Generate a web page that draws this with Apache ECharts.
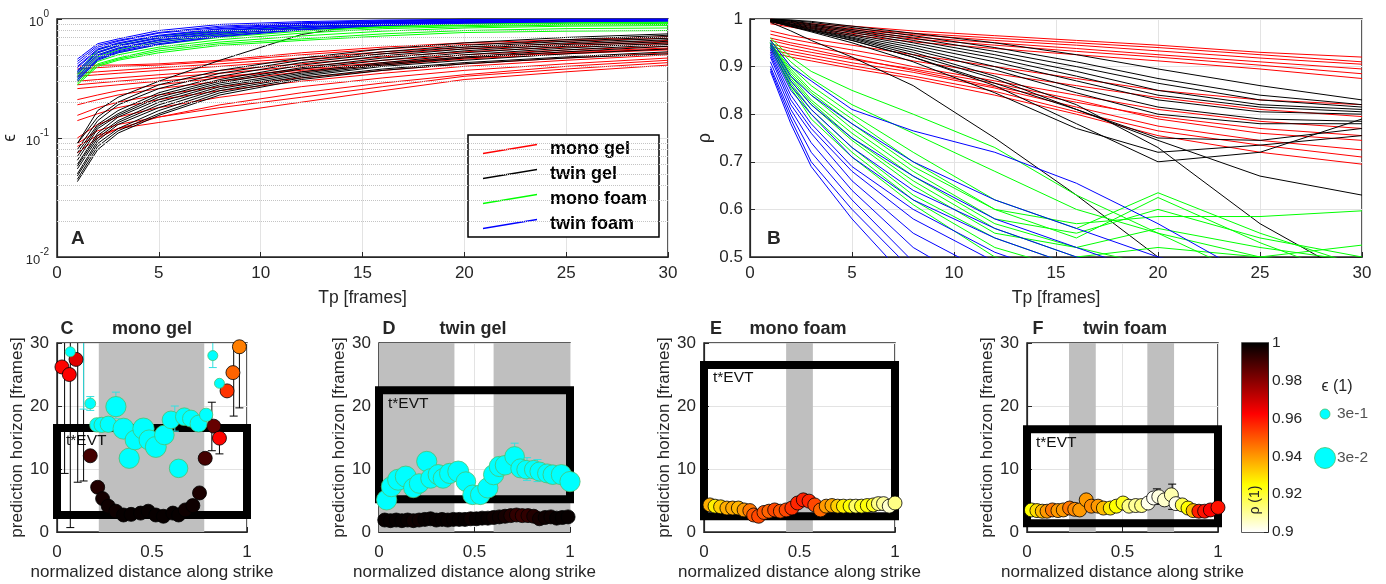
<!DOCTYPE html>
<html>
<head>
<meta charset="utf-8">
<script src="https://cdn.jsdelivr.net/npm/echarts@6.0.0/dist/echarts.min.js"></script>
<style>
  html, body { margin: 0; padding: 0; background: #fff; }
  #chart { width: 1386px; height: 584px; }
</style>
</head>
<body>
<div id="chart"></div>
<script>
// Tp sample points used for every curve of panels A and B
const tp = [1, 2, 3, 5, 8, 12, 16, 20, 25, 30]

// panel A : epsilon vs Tp (log scale)
const epsMonoGel = [
  [0.40, 0.41, 0.41, 0.42, 0.45, 0.52, 0.58, 0.63, 0.67, 0.71],
  [0.38, 0.39, 0.40, 0.41, 0.44, 0.50, 0.56, 0.61, 0.65, 0.69],
  [0.35, 0.36, 0.37, 0.39, 0.42, 0.47, 0.53, 0.58, 0.62, 0.66],
  [0.33, 0.34, 0.35, 0.37, 0.40, 0.45, 0.51, 0.56, 0.60, 0.64],
  [0.30, 0.31, 0.32, 0.34, 0.37, 0.42, 0.48, 0.53, 0.58, 0.62],
  [0.28, 0.29, 0.30, 0.32, 0.35, 0.40, 0.45, 0.50, 0.55, 0.59],
  [0.26, 0.27, 0.28, 0.30, 0.33, 0.37, 0.42, 0.47, 0.52, 0.56],
  [0.21, 0.23, 0.25, 0.28, 0.32, 0.38, 0.43, 0.48, 0.53, 0.57],
  [0.19, 0.21, 0.23, 0.26, 0.30, 0.36, 0.41, 0.46, 0.51, 0.55],
  [0.155, 0.18, 0.20, 0.23, 0.27, 0.32, 0.37, 0.42, 0.47, 0.52],
  [0.14, 0.16, 0.18, 0.21, 0.25, 0.30, 0.35, 0.40, 0.45, 0.50],
  [0.10, 0.13, 0.15, 0.18, 0.22, 0.27, 0.32, 0.37, 0.42, 0.47],
  [0.09, 0.115, 0.13, 0.15, 0.18, 0.22, 0.27, 0.33, 0.38, 0.43],
  [0.085, 0.105, 0.12, 0.135, 0.16, 0.20, 0.25, 0.31, 0.36, 0.41],
  [0.075, 0.10, 0.12, 0.15, 0.19, 0.24, 0.29, 0.34, 0.40, 0.45]
]
const epsTwinGel = [
  [0.09, 0.17, 0.22, 0.30, 0.45, 0.74, 0.95, 1.0, 1.0, 1.0],
  [0.09, 0.15, 0.20, 0.28, 0.37, 0.47, 0.56, 0.63, 0.70, 0.75],
  [0.08, 0.14, 0.19, 0.26, 0.35, 0.45, 0.53, 0.60, 0.67, 0.73],
  [0.075, 0.13, 0.17, 0.24, 0.33, 0.43, 0.51, 0.58, 0.65, 0.71],
  [0.07, 0.125, 0.16, 0.23, 0.31, 0.41, 0.49, 0.56, 0.63, 0.69],
  [0.065, 0.12, 0.155, 0.22, 0.30, 0.39, 0.47, 0.54, 0.61, 0.67],
  [0.06, 0.11, 0.15, 0.21, 0.29, 0.38, 0.45, 0.52, 0.59, 0.65],
  [0.058, 0.105, 0.14, 0.20, 0.28, 0.36, 0.43, 0.50, 0.57, 0.63],
  [0.055, 0.10, 0.135, 0.19, 0.27, 0.35, 0.42, 0.48, 0.55, 0.61],
  [0.05, 0.095, 0.13, 0.18, 0.26, 0.34, 0.41, 0.47, 0.53, 0.59],
  [0.048, 0.09, 0.12, 0.17, 0.25, 0.33, 0.40, 0.45, 0.51, 0.56],
  [0.045, 0.085, 0.115, 0.16, 0.24, 0.32, 0.38, 0.43, 0.48, 0.53],
  [0.043, 0.08, 0.11, 0.155, 0.23, 0.31, 0.37, 0.42, 0.47, 0.51]
]
const epsMonoFoam = [
  [0.36, 0.55, 0.62, 0.72, 0.80, 0.86, 0.90, 0.93, 0.95, 0.96],
  [0.35, 0.52, 0.60, 0.69, 0.78, 0.85, 0.89, 0.92, 0.94, 0.95],
  [0.34, 0.50, 0.57, 0.66, 0.75, 0.83, 0.87, 0.91, 0.93, 0.94],
  [0.33, 0.48, 0.55, 0.64, 0.73, 0.81, 0.86, 0.89, 0.92, 0.93],
  [0.32, 0.46, 0.52, 0.61, 0.70, 0.79, 0.85, 0.88, 0.90, 0.92],
  [0.31, 0.44, 0.50, 0.58, 0.67, 0.76, 0.83, 0.86, 0.89, 0.90],
  [0.30, 0.42, 0.47, 0.56, 0.64, 0.72, 0.79, 0.84, 0.87, 0.88],
  [0.29, 0.41, 0.46, 0.54, 0.62, 0.68, 0.75, 0.80, 0.83, 0.84],
  [0.28, 0.40, 0.45, 0.52, 0.60, 0.66, 0.72, 0.77, 0.79, 0.80]
]
const epsTwinFoam = [
  [0.46, 0.62, 0.68, 0.80, 0.90, 0.95, 0.98, 0.99, 1.0, 1.0],
  [0.44, 0.60, 0.66, 0.77, 0.87, 0.93, 0.97, 0.99, 0.99, 1.0],
  [0.42, 0.58, 0.65, 0.76, 0.85, 0.92, 0.96, 0.98, 0.99, 0.99],
  [0.40, 0.56, 0.63, 0.73, 0.83, 0.91, 0.95, 0.97, 0.98, 0.99],
  [0.39, 0.55, 0.62, 0.72, 0.82, 0.90, 0.94, 0.96, 0.98, 0.99],
  [0.37, 0.53, 0.60, 0.70, 0.80, 0.89, 0.93, 0.96, 0.97, 0.98],
  [0.36, 0.52, 0.59, 0.69, 0.79, 0.88, 0.93, 0.95, 0.97, 0.98],
  [0.35, 0.50, 0.57, 0.67, 0.77, 0.86, 0.92, 0.95, 0.97, 0.98],
  [0.33, 0.49, 0.56, 0.66, 0.76, 0.85, 0.91, 0.94, 0.96, 0.97],
  [0.32, 0.47, 0.54, 0.64, 0.74, 0.84, 0.90, 0.94, 0.96, 0.97],
  [0.31, 0.46, 0.53, 0.62, 0.72, 0.82, 0.89, 0.93, 0.95, 0.97],
  [0.30, 0.45, 0.52, 0.61, 0.71, 0.81, 0.88, 0.92, 0.95, 0.96]
]
const epsMinor = [0.02, 0.03, 0.04, 0.05, 0.06, 0.07, 0.08, 0.09, 0.2, 0.3, 0.4, 0.5, 0.6, 0.7, 0.8, 0.9]

// panel B : rho vs Tp
const rhoMonoGel = [
  [1.0, 0.995, 0.99, 0.985, 0.975, 0.965, 0.955, 0.945, 0.93, 0.92],
  [0.998, 0.993, 0.988, 0.98, 0.97, 0.96, 0.95, 0.94, 0.925, 0.91],
  [0.997, 0.99, 0.985, 0.977, 0.967, 0.955, 0.945, 0.933, 0.918, 0.905],
  [0.995, 0.988, 0.982, 0.974, 0.962, 0.95, 0.938, 0.925, 0.91, 0.895],
  [0.993, 0.986, 0.98, 0.97, 0.958, 0.945, 0.932, 0.92, 0.903, 0.885],
  [0.99, 0.983, 0.976, 0.966, 0.952, 0.938, 0.925, 0.912, 0.895, 0.875],
  [0.975, 0.965, 0.958, 0.945, 0.925, 0.9, 0.875, 0.85, 0.83, 0.82],
  [0.968, 0.958, 0.95, 0.935, 0.912, 0.885, 0.86, 0.835, 0.81, 0.795],
  [0.96, 0.95, 0.942, 0.926, 0.9, 0.87, 0.84, 0.81, 0.785, 0.77],
  [0.955, 0.945, 0.936, 0.918, 0.892, 0.858, 0.825, 0.795, 0.77, 0.755],
  [0.948, 0.938, 0.93, 0.915, 0.895, 0.865, 0.83, 0.79, 0.76, 0.745],
  [0.942, 0.932, 0.924, 0.908, 0.888, 0.855, 0.815, 0.775, 0.745, 0.725],
  [0.936, 0.926, 0.918, 0.902, 0.88, 0.848, 0.805, 0.765, 0.735, 0.71],
  [0.93, 0.92, 0.912, 0.896, 0.875, 0.84, 0.80, 0.755, 0.72, 0.695]
]
const rhoTwinGel = [
  [1.0, 0.998, 0.995, 0.985, 0.97, 0.95, 0.925, 0.895, 0.86, 0.83],
  [1.0, 0.997, 0.993, 0.982, 0.965, 0.94, 0.91, 0.875, 0.84, 0.82],
  [0.999, 0.996, 0.99, 0.978, 0.96, 0.932, 0.9, 0.865, 0.83, 0.815],
  [0.999, 0.995, 0.988, 0.975, 0.955, 0.925, 0.89, 0.85, 0.82, 0.81],
  [0.998, 0.993, 0.986, 0.972, 0.95, 0.918, 0.88, 0.84, 0.815, 0.805],
  [0.998, 0.992, 0.984, 0.968, 0.945, 0.91, 0.87, 0.83, 0.805, 0.80],
  [0.997, 0.99, 0.982, 0.965, 0.94, 0.9, 0.855, 0.815, 0.79, 0.785],
  [0.997, 0.989, 0.98, 0.962, 0.935, 0.893, 0.845, 0.80, 0.78, 0.78],
  [0.996, 0.987, 0.977, 0.958, 0.925, 0.875, 0.81, 0.75, 0.745, 0.77],
  [0.995, 0.985, 0.975, 0.955, 0.92, 0.86, 0.78, 0.70, 0.72, 0.79],
  [0.995, 0.984, 0.973, 0.95, 0.91, 0.845, 0.77, 0.72, 0.735, 0.755],
  [0.995, 0.985, 0.975, 0.955, 0.92, 0.865, 0.81, 0.745, 0.67, 0.63],
  [0.993, 0.975, 0.955, 0.92, 0.86, 0.75, 0.63, 0.5, 0.35, 0.2],
  [0.996, 0.988, 0.978, 0.96, 0.93, 0.88, 0.82, 0.73, 0.57, 0.45]
]
const rhoMonoFoam = [
  [0.96, 0.92, 0.89, 0.85, 0.80, 0.73, 0.63, 0.55, 0.45, 0.4],
  [0.955, 0.91, 0.875, 0.82, 0.76, 0.68, 0.6, 0.55, 0.5, 0.48],
  [0.955, 0.90, 0.86, 0.80, 0.72, 0.62, 0.56, 0.635, 0.55, 0.48],
  [0.95, 0.895, 0.85, 0.79, 0.70, 0.60, 0.54, 0.625, 0.53, 0.45],
  [0.95, 0.89, 0.845, 0.78, 0.69, 0.6, 0.57, 0.585, 0.585, 0.597],
  [0.95, 0.885, 0.84, 0.77, 0.68, 0.58, 0.55, 0.6, 0.54, 0.5],
  [0.948, 0.88, 0.83, 0.76, 0.67, 0.57, 0.52, 0.56, 0.52, 0.49],
  [0.948, 0.875, 0.825, 0.75, 0.66, 0.56, 0.5, 0.52, 0.50, 0.525],
  [0.945, 0.87, 0.82, 0.745, 0.65, 0.55, 0.52, 0.48, 0.45, 0.42],
  [0.945, 0.865, 0.81, 0.73, 0.63, 0.54, 0.48, 0.45, 0.42, 0.4],
  [0.94, 0.86, 0.80, 0.72, 0.62, 0.52, 0.47, 0.44, 0.4, 0.38],
  [0.94, 0.855, 0.79, 0.71, 0.61, 0.5, 0.46, 0.42, 0.38, 0.36]
]
const rhoTwinFoam = [
  [0.955, 0.9, 0.87, 0.81, 0.765, 0.72, 0.655, 0.57, 0.45, 0.4],
  [0.95, 0.88, 0.84, 0.78, 0.7, 0.62, 0.56, 0.5, 0.45, 0.4],
  [0.945, 0.87, 0.82, 0.75, 0.67, 0.58, 0.52, 0.46, 0.4, 0.35],
  [0.94, 0.86, 0.81, 0.73, 0.64, 0.56, 0.5, 0.45, 0.4, 0.35],
  [0.935, 0.85, 0.80, 0.71, 0.62, 0.54, 0.48, 0.43, 0.4, 0.35],
  [0.93, 0.84, 0.78, 0.69, 0.60, 0.51, 0.45, 0.4, 0.35, 0.3],
  [0.925, 0.83, 0.77, 0.68, 0.58, 0.49, 0.43, 0.38, 0.35, 0.3],
  [0.92, 0.82, 0.76, 0.66, 0.55, 0.46, 0.4, 0.35, 0.3, 0.3],
  [0.91, 0.81, 0.74, 0.64, 0.52, 0.42, 0.35, 0.3, 0.3, 0.3],
  [0.90, 0.80, 0.72, 0.62, 0.49, 0.38, 0.3, 0.3, 0.3, 0.3],
  [0.895, 0.79, 0.70, 0.60, 0.47, 0.35, 0.3, 0.3, 0.3, 0.3],
  [0.89, 0.78, 0.69, 0.58, 0.44, 0.3, 0.3, 0.3, 0.3, 0.3]
]

// panels C-F : [x, horizon, rho] and [x, horizon, eps]
const cRho = [[0.026, 26.2, 0.962], [0.065, 25.0, 0.963], [0.10, 27.4, 0.967], [0.175, 12.1, 0.99], [0.214, 7.1, 0.995],
  [0.24, 5.3, 0.997], [0.27, 4.1, 0.998], [0.31, 3.3, 0.998], [0.35, 2.7, 0.999], [0.39, 2.8, 0.999], [0.44, 3.0, 0.999],
  [0.48, 3.3, 0.999], [0.52, 2.7, 0.999], [0.56, 2.5, 0.999], [0.61, 3.0, 0.999], [0.64, 2.7, 0.999], [0.675, 3.5, 0.998],
  [0.715, 4.2, 0.998], [0.75, 6.2, 0.996], [0.78, 11.7, 0.99], [0.825, 16.8, 0.985], [0.855, 14.9, 0.962],
  [0.895, 22.4, 0.955], [0.926, 25.3, 0.948], [0.96, 29.4, 0.944]]
const cEps = [[0.07, 28.6, 0.3], [0.175, 20.4, 0.25], [0.21, 17.0, 0.12], [0.235, 17.0, 0.1], [0.27, 17.1, 0.08],
  [0.31, 19.9, 0.035], [0.35, 16.4, 0.03], [0.38, 11.7, 0.035], [0.41, 14.6, 0.04], [0.455, 16.4, 0.028],
  [0.485, 14.6, 0.035], [0.52, 13.5, 0.03], [0.565, 15.4, 0.04], [0.6, 17.8, 0.06], [0.64, 10.1, 0.05],
  [0.67, 18.3, 0.06], [0.705, 18.0, 0.07], [0.745, 17.2, 0.07], [0.785, 18.6, 0.15], [0.82, 28.0, 0.3], [0.855, 23.6, 0.3]]
const dRho = [[0.03, 1.9, 0.999], [0.06, 1.8, 0.999], [0.09, 1.9, 0.999], [0.12, 1.8, 0.999], [0.15, 1.9, 0.999],
  [0.18, 1.8, 0.998], [0.21, 1.9, 0.998], [0.24, 2.0, 0.999], [0.27, 2.1, 0.999], [0.3, 1.9, 0.999], [0.33, 2.0, 0.999],
  [0.36, 1.9, 0.999], [0.39, 2.0, 0.999], [0.42, 2.0, 0.999], [0.45, 2.0, 0.999], [0.48, 2.1, 0.998], [0.51, 2.1, 0.999],
  [0.54, 2.2, 0.999], [0.57, 2.2, 0.999], [0.6, 2.3, 0.998], [0.63, 2.4, 0.998], [0.66, 2.5, 0.997], [0.69, 2.6, 0.995],
  [0.72, 2.7, 0.993], [0.75, 2.6, 0.992], [0.78, 2.6, 0.993], [0.81, 2.5, 0.995], [0.84, 2.1, 0.997], [0.87, 2.3, 0.998],
  [0.9, 2.4, 0.998], [0.93, 2.2, 0.999], [0.96, 2.3, 0.999], [0.99, 2.4, 0.999]]
const dEps = [[0.04, 5.1, 0.035], [0.065, 7.2, 0.035], [0.1, 8.3, 0.03], [0.14, 8.8, 0.03], [0.18, 7.0, 0.04],
  [0.21, 7.7, 0.04], [0.25, 11.2, 0.035], [0.27, 8.5, 0.04], [0.31, 9.1, 0.035], [0.335, 8.5, 0.04], [0.37, 9.3, 0.035],
  [0.415, 9.6, 0.03], [0.455, 8.0, 0.04], [0.49, 5.9, 0.04], [0.53, 5.9, 0.04], [0.57, 7.0, 0.035], [0.6, 9.1, 0.035],
  [0.63, 10.4, 0.035], [0.66, 10.6, 0.04], [0.71, 12.0, 0.04], [0.74, 10.1, 0.045], [0.77, 9.9, 0.05], [0.81, 9.9, 0.05],
  [0.84, 9.6, 0.045], [0.88, 9.3, 0.045], [0.91, 9.1, 0.04], [0.955, 9.1, 0.035], [1.0, 8.0, 0.035]]
const eRho = [[0.031, 4.3, 0.937], [0.058, 4.1, 0.927], [0.087, 4.0, 0.932], [0.12, 3.8, 0.937], [0.15, 3.8, 0.938],
  [0.18, 3.8, 0.936], [0.21, 3.5, 0.94], [0.24, 3.4, 0.945], [0.26, 2.7, 0.95], [0.286, 2.5, 0.952], [0.314, 3.1, 0.95],
  [0.34, 3.3, 0.948], [0.37, 3.5, 0.952], [0.4, 3.3, 0.95], [0.43, 3.5, 0.952], [0.46, 3.8, 0.955], [0.49, 4.6, 0.957],
  [0.52, 5.1, 0.958], [0.55, 4.9, 0.957], [0.58, 4.3, 0.952], [0.61, 3.5, 0.947], [0.64, 4.1, 0.94], [0.67, 4.2, 0.938],
  [0.7, 4.1, 0.932], [0.73, 4.1, 0.927], [0.765, 4.1, 0.925], [0.795, 4.1, 0.915], [0.825, 4.1, 0.922], [0.855, 4.2, 0.924],
  [0.887, 4.3, 0.922], [0.913, 4.5, 0.912], [0.94, 4.5, 0.91], [0.97, 4.1, 0.905], [1.0, 4.6, 0.912]]
const fRho = [[0.023, 3.5, 0.925], [0.052, 3.4, 0.93], [0.08, 3.3, 0.935], [0.105, 3.3, 0.94], [0.133, 3.5, 0.945],
  [0.162, 3.4, 0.94], [0.19, 3.5, 0.94], [0.223, 3.8, 0.945], [0.25, 3.6, 0.942], [0.276, 3.5, 0.94], [0.31, 5.1, 0.94],
  [0.337, 4.1, 0.942], [0.372, 4.1, 0.94], [0.40, 3.8, 0.935], [0.436, 3.8, 0.928], [0.468, 4.1, 0.925], [0.503, 4.6, 0.922],
  [0.534, 4.1, 0.912], [0.569, 4.2, 0.91], [0.6, 4.2, 0.912], [0.634, 4.6, 0.902], [0.663, 5.4, 0.901], [0.69, 5.6, 0.903],
  [0.72, 5.1, 0.905], [0.756, 5.9, 0.908], [0.78, 4.5, 0.902], [0.813, 4.3, 0.918], [0.843, 3.8, 0.925], [0.87, 3.4, 0.935],
  [0.9, 3.3, 0.958], [0.93, 3.3, 0.96], [0.96, 3.5, 0.962], [1.0, 3.9, 0.96]]

// error bars [x, low, high]
const cErrBlack = [[0.04, 9.3, 31], [0.07, 0.7, 31], [0.109, 7.9, 31], [0.14, 8.1, 31], [0.815, 12.9, 20.6],
  [0.855, 12.4, 17], [0.93, 18.4, 31], [0.96, 19.7, 31]]
const cErrCyan = [[0.14, 19.5, 31], [0.175, 19.3, 21.5], [0.31, 18.0, 22.2], [0.62, 16, 20], [0.82, 26.1, 30.5]]
const dErrCyan = [[0.71, 11, 14.1], [0.775, 8.2, 11.8], [0.83, 8, 11.5]]
const fErrBlack = [[0.68, 4.4, 6.85], [0.76, 3.6, 7.6]]

const panelNames = ["mono gel", "twin gel", "mono foam", "twin foam"]
const panelLetters = ["C", "D", "E", "F"]
const grayBands = [[[0.22, 0.775]], [[0, 0.395], [0.6, 1]], [[0.43, 0.57]], [[0.22, 0.36], [0.63, 0.77]]]
const evtLow = [2.7, 5.2, 2.5, 1.4]
const evtHigh = [16.5, 22.5, 26.5, 16.3]
const rhoPts = [cRho, dRho, eRho, fRho]
const epsPts = [cEps, dEps, [], []]
const errBlack = [cErrBlack, [], [], fErrBlack]
const errCyan = [cErrCyan, dErrCyan, [], []]

const epsLegend = [0.3, 0.03]
const epsLegendLabels = ["3e-1", "3e-2"]

// hot colormap, flipped (0.9 -> white, 1 -> black)
const hot = ["#ffffff", "#ffff80", "#ffff00", "#ffaa00", "#ff5500", "#ff0000", "#aa0000", "#550000", "#000000"]

const FONT = "Liberation Sans, Arial, Helvetica, sans-serif"
const INK = "#262626"
const groupColors = { "mono gel": "#ff0000", "twin gel": "#000000", "mono foam": "#00ff00", "twin foam": "#0000ff" }

const epsSize = (e) => 10 + 11 * Math.log10(0.3 / e)

let myChart = echarts.init(document.getElementById("chart"))

const gridBase = { show: true, borderColor: INK, borderWidth: 1.5, outerBoundsMode: "none", containLabel: false }
const grids = [
  { left: 57, top: 19, width: 611, height: 238 },
  { left: 750, top: 19, width: 612, height: 238 },
  { left: 57, top: 343, width: 190, height: 189 },
  { left: 379, top: 343, width: 191, height: 189 },
  { left: 704, top: 343, width: 191, height: 189 },
  { left: 1027, top: 343, width: 191, height: 189 },
  { left: 1242, top: 343, width: 26, height: 189 },
  { left: 1315, top: 414, width: 20, height: 44 },
].map((g, i) => Object.assign({}, gridBase, g, i === 7 ? { show: false } : {}))

const axisStyle = (labelMargin) => ({
  axisLine: { show: true, lineStyle: { color: INK, width: 1.2 } },
  axisTick: { show: true, inside: true, length: 5, lineStyle: { color: INK } },
  axisLabel: { color: INK, fontSize: 17, fontFamily: FONT, margin: labelMargin },
  splitLine: { show: true, lineStyle: { color: "#e3e3e3", width: 1 } },
  nameTextStyle: { color: INK, fontSize: 17.5, fontFamily: FONT },
})

const xAxes = [
  Object.assign(axisStyle(8), { gridIndex: 0, type: "value", min: 0, max: 30, interval: 5, name: "Tp [frames]", nameLocation: "middle", nameGap: 32 }),
  Object.assign(axisStyle(8), { gridIndex: 1, type: "value", min: 0, max: 30, interval: 5, name: "Tp [frames]", nameLocation: "middle", nameGap: 32 }),
]
const yAxes = [
  Object.assign(axisStyle(8), {
    gridIndex: 0, type: "log", logBase: 10, min: 0.01, max: 1, name: "ϵ", nameLocation: "middle", nameGap: 38,
    axisLabel: {
      margin: 8, color: INK, fontFamily: FONT,
      formatter: (v) => "{b|10}{e|" + Math.round(Math.log10(v)) + "}",
      rich: { b: { fontSize: 13, lineHeight: 19, verticalAlign: "bottom", color: INK, fontFamily: FONT }, e: { fontSize: 10, verticalAlign: "top", color: INK, fontFamily: FONT } },
    },
  }),
  Object.assign(axisStyle(7), {
    gridIndex: 1, type: "value", min: 0.5, max: 1, interval: 0.1, name: "ρ", nameLocation: "middle", nameGap: 36,
  }),
]
yAxes[1].axisLabel.formatter = (v) => String(Math.round(v * 10) / 10)

for (let i = 0; i < 4; i++) {
  const xa = Object.assign(axisStyle(12), {
    gridIndex: 2 + i, type: "value", min: 0, max: 1, interval: 0.5,
    name: "normalized distance along strike", nameLocation: "middle", nameGap: 32,
  })
  xa.nameTextStyle.fontSize = 17
  xAxes.push(xa)
  const ya = Object.assign(axisStyle(8), {
    gridIndex: 2 + i, type: "value", min: 0, max: 30, interval: 10,
    name: "prediction horizon [frames]", nameLocation: "middle", nameGap: 29,
  })
  ya.nameTextStyle.fontSize = 17
  yAxes.push(ya)
}
// colorbar axes
xAxes.push({ gridIndex: 6, type: "category", data: ["ρ"], show: false })
yAxes.push({
  gridIndex: 6, type: "value", min: 0.9, max: 1, interval: 0.02, position: "right",
  axisLine: { show: true, lineStyle: { color: INK } },
  axisTick: { show: true, inside: true, length: 4, lineStyle: { color: INK } },
  splitLine: { show: false },
  axisLabel: { color: INK, fontSize: 15.5, fontFamily: FONT, margin: 4, formatter: (v) => String(Math.round(v * 100) / 100) },
})
// bubble size legend axes
xAxes.push({ gridIndex: 7, type: "value", min: 0, max: 2, show: false })
yAxes.push({ gridIndex: 7, type: "value", min: 0, max: 1, show: false })

const series = []

function addLines(axis, name, rows) {
  const color = groupColors[name]
  rows.forEach((row) => {
    series.push({
      type: "line", name, xAxisIndex: axis, yAxisIndex: axis,
      data: tp.map((t, i) => [t, row[i]]),
      symbol: "none", showSymbol: false, clip: true, silent: true,
      lineStyle: { width: 1, color }, itemStyle: { color },
      emphasis: { disabled: true }, z: 2,
    })
  })
}

// dotted minor grid of the log axis
series.push({
  type: "line", xAxisIndex: 0, yAxisIndex: 0, data: [], silent: true, z: 1,
  markLine: {
    silent: true, symbol: ["none", "none"], label: { show: false }, animation: false,
    lineStyle: { type: "dotted", color: "#c4c4c4", width: 1 },
    data: epsMinor.map((v) => ({ yAxis: v })),
  },
})

addLines(0, "mono gel", epsMonoGel)
addLines(0, "twin gel", epsTwinGel)
addLines(0, "mono foam", epsMonoFoam)
addLines(0, "twin foam", epsTwinFoam)
addLines(1, "mono gel", rhoMonoGel)
addLines(1, "twin gel", rhoTwinGel)
addLines(1, "mono foam", rhoMonoFoam)
addLines(1, "twin foam", rhoTwinFoam)

const errRender = (color) => (params, api) => {
  const x = api.value(0)
  const p1 = api.coord([x, api.value(1)])
  const p2 = api.coord([x, api.value(2)])
  const w = 4
  const st = { stroke: color, lineWidth: 1 }
  return {
    type: "group",
    children: [
      { type: "line", shape: { x1: p1[0], y1: p1[1], x2: p2[0], y2: p2[1] }, style: st },
      { type: "line", shape: { x1: p1[0] - w, y1: p1[1], x2: p1[0] + w, y2: p1[1] }, style: st },
      { type: "line", shape: { x1: p2[0] - w, y1: p2[1], x2: p2[0] + w, y2: p2[1] }, style: st },
    ],
  }
}

const rhoSeriesIdx = []
for (let i = 0; i < 4; i++) {
  const ax = 2 + i
  // grey strips
  series.push({
    type: "custom", xAxisIndex: ax, yAxisIndex: ax, data: grayBands[i], silent: true, z: 2, clip: true,
    renderItem: (params, api) => {
      const a = api.coord([api.value(0), 30])
      const b = api.coord([api.value(1), 0])
      return { type: "rect", shape: { x: a[0], y: a[1], width: b[0] - a[0], height: b[1] - a[1] }, style: { fill: "#bfbfbf" } }
    },
  })
  // t*EVT box
  series.push({
    type: "custom", xAxisIndex: ax, yAxisIndex: ax, data: [[evtLow[i], evtHigh[i]]], silent: true, z: 2, clip: false,
    renderItem: (params, api) => {
      const a = api.coord([0, api.value(1)])
      const b = api.coord([1, api.value(0)])
      return {
        type: "group",
        children: [
          { type: "rect", shape: { x: a[0], y: a[1], width: b[0] - a[0], height: b[1] - a[1] }, style: { fill: "none", stroke: "#000", lineWidth: 8 } },
          { type: "text", x: a[0] + 9, y: a[1] + 5, style: { text: "t*EVT", fontSize: 15.5, fontFamily: FONT, fill: "#111", align: "left", verticalAlign: "top" } },
        ],
      }
    },
  })
  series.push({ type: "custom", xAxisIndex: ax, yAxisIndex: ax, data: errBlack[i], silent: true, z: 2, clip: true, renderItem: errRender("#000") })
  rhoSeriesIdx.push(series.length)
  series.push({
    type: "scatter", xAxisIndex: ax, yAxisIndex: ax, data: rhoPts[i], symbolSize: 14, silent: true, z: 3,
    itemStyle: { borderColor: "#000", borderWidth: 0.8, opacity: 1 },
  })
  series.push({ type: "custom", xAxisIndex: ax, yAxisIndex: ax, data: errCyan[i], silent: true, z: 3, clip: true, renderItem: errRender("#33e0e0") })
  series.push({
    type: "scatter", xAxisIndex: ax, yAxisIndex: ax, data: epsPts[i], silent: true, z: 4,
    symbolSize: (v) => epsSize(v[2]),
    itemStyle: { color: "#00ffff", borderColor: "#4cc070", borderWidth: 0.8, opacity: 1 },
  })
}

// colorbar
series.push({
  type: "bar", xAxisIndex: 6, yAxisIndex: 6, data: [1], barWidth: "100%", silent: true,
  itemStyle: {
    color: new echarts.graphic.LinearGradient(0, 1, 0, 0, hot.map((c, i) => ({ offset: i / (hot.length - 1), color: c }))),
  },
})

// bubble size legend
series.push({
  type: "scatter", xAxisIndex: 7, yAxisIndex: 7, silent: true,
  data: epsLegend.map((e, i) => [1, 1 - i, e]),
  symbolSize: (v) => epsSize(v[2]),
  itemStyle: { color: "#00ffff", borderColor: "#4cc070", borderWidth: 0.8, opacity: 1 },
})
series.push({
  type: "scatter", xAxisIndex: 7, yAxisIndex: 7, silent: true, symbolSize: 0,
  data: epsLegend.map((e, i) => [2, 1 - i]),
  label: { show: true, position: "right", distance: 2, color: INK, fontSize: 15.5, fontFamily: FONT, formatter: (p) => epsLegendLabels[p.dataIndex] },
})

const letterStyle = (size) => ({ fontSize: size, fontWeight: "bold", color: INK, fontFamily: FONT })
const titles = [
  { text: "A", left: 71, top: 229, padding: 0, textStyle: letterStyle(19) },
  { text: "B", left: 767, top: 229, padding: 0, textStyle: letterStyle(19) },
  { text: "ϵ (1)", left: 1337, top: 379, padding: 0, textAlign: "center", textStyle: { fontSize: 16, fontWeight: "normal", color: INK, fontFamily: FONT } },
]
const letterX = [67, 389, 716, 1038]
const titleX = [152, 473, 798, 1125]
for (let i = 0; i < 4; i++) {
  titles.push({ text: panelLetters[i], left: letterX[i], top: 320, padding: 0, textAlign: "center", textStyle: letterStyle(18) })
  titles.push({ text: panelNames[i], left: titleX[i], top: 320, padding: 0, textAlign: "center", textStyle: letterStyle(18) })
}

const legendIcon = "path://M0,9 L54,0 L54,1.4 L0,10.4 Z"

myChart.setOption({
  animation: false,
  textStyle: { fontFamily: FONT },
  title: titles,
  grid: grids,
  xAxis: xAxes,
  yAxis: yAxes,
  legend: {
    left: 468, top: 135, orient: "vertical", selectedMode: false,
    padding: [5, 12, 4, 15], itemGap: 7, itemWidth: 54, itemHeight: 11,
    borderColor: "#000", borderWidth: 1.5, backgroundColor: "#fff",
    textStyle: { fontSize: 18, fontWeight: "bold", color: "#000", fontFamily: FONT, padding: [0, 0, 0, 8] },
    data: panelNames.map((n) => ({ name: n, icon: legendIcon, itemStyle: { color: groupColors[n] } })),
  },
  visualMap: {
    type: "continuous", show: false, min: 0.9, max: 1, dimension: 2,
    seriesIndex: rhoSeriesIdx, inRange: { color: hot },
  },
  graphic: [
    {
      type: "text", x: 1255, y: 500, rotation: Math.PI / 2, z: 100, zlevel: 0,
      style: { text: "ρ (1)", fontSize: 14, fontFamily: FONT, fill: INK, align: "center", verticalAlign: "middle" },
    },
  ],
  series,
})

window.addEventListener("resize", () => {
  myChart.resize()
})
</script>
</body>
</html>
